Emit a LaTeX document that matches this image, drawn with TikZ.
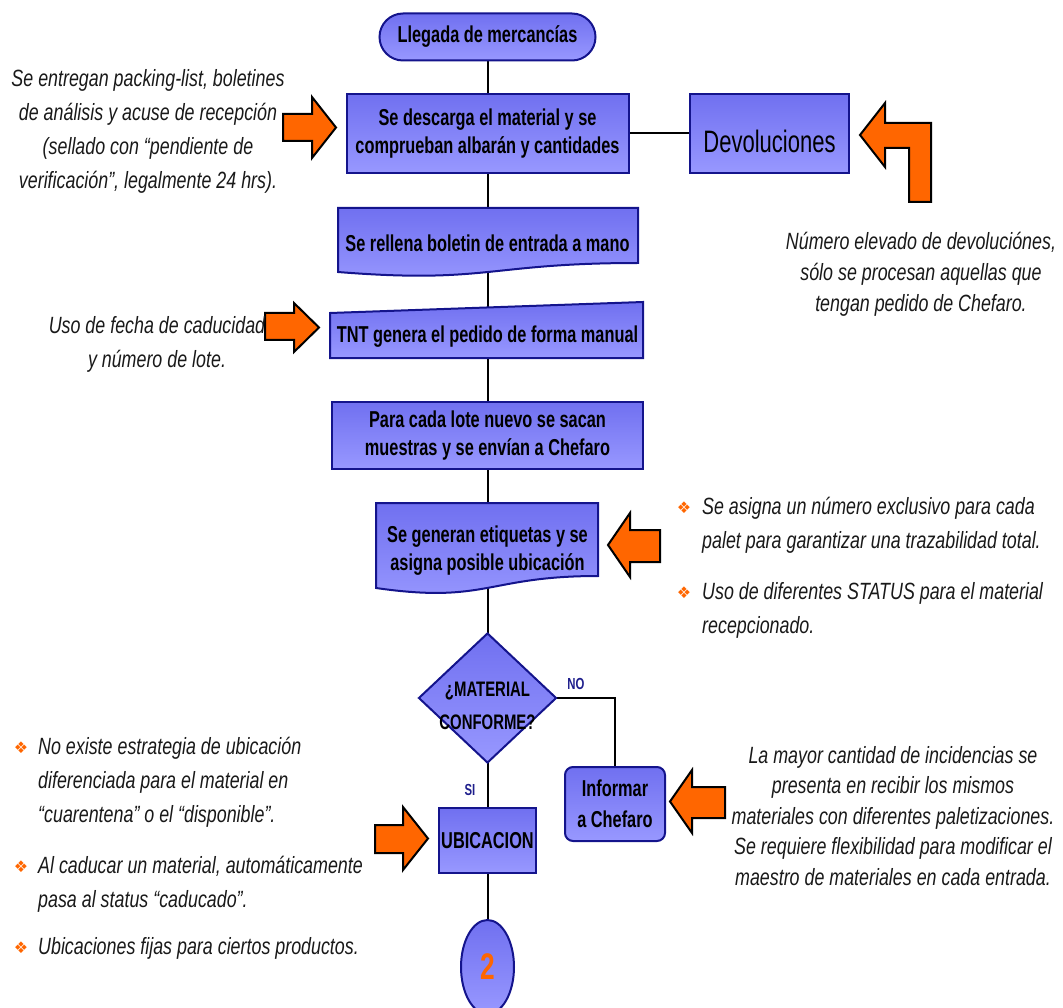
\documentclass[tikz,border=0pt]{standalone}
\usepackage{fontspec}
\setmainfont{Liberation Sans}
\newfontfamily\nar[FakeStretch=0.76]{Liberation Sans}
\newfontfamily\narb[FakeStretch=0.71]{Liberation Sans}
\newfontfamily\dejavu{DejaVu Sans}
\usetikzlibrary{shapes.geometric,shapes.misc}
\definecolor{boxtop}{RGB}{112,112,240}
\definecolor{boxbot}{RGB}{152,152,255}
\definecolor{boxline}{RGB}{20,20,140}
\definecolor{arrowor}{RGB}{255,102,0}
\definecolor{labblue}{RGB}{30,30,140}
\definecolor{txtgray}{RGB}{25,25,25}
\pgfdeclarelayer{connlayer}
\pgfsetlayers{connlayer,main}
\tikzset{
  flowfill/.style={top color=boxtop, bottom color=boxbot, draw=boxline, line width=2pt},
  flowbox/.style={flowfill, rectangle, inner sep=0pt, font=\narb\bfseries\fontsize{23}{28}\selectfont, align=center},
  flowtext/.style={inner sep=0pt, font=\narb\bfseries\fontsize{23}{28}\selectfont, align=center},
  conn/.style={draw=black, line width=2pt},
  blockarrow/.style={fill=arrowor, draw=black, line width=2pt, line join=miter},
  note/.style={inner sep=0pt, font=\nar\itshape\fontsize{23.5}{34}\selectfont, text=txtgray},
  bulletmark/.style={inner sep=0pt, font=\dejavu\fontsize{16}{16}\selectfont, text=arrowor},
  yesno/.style={inner sep=0pt, font=\narb\bfseries\fontsize{16}{16}\selectfont, text=labblue},
}
\begin{document}
\begin{tikzpicture}[x=1pt,y=-1pt]
\useasboundingbox (0,0) rectangle (1063,1008);

% main column
\node[flowbox, rounded rectangle, minimum width=216pt, minimum height=47pt] (pill) at (487.5,37) {Llegada de mercancías};
\node[flowbox, minimum width=282pt, minimum height=79pt] (b1) at (487.5,133.5) {Se descarga el material y se\\comprueban albarán y cantidades};
\node[flowbox, font=\narb\fontsize{31}{31}\selectfont, text height=38pt, minimum width=159pt, minimum height=79pt] (devol) at (769.5,133.5) {Devoluciones};

\path[flowfill] (338,208) -- (638,208) -- (638,263) .. controls (488,263) and (488,284) .. (338,272) -- cycle;
\node[flowtext] (b2) at (487.5,243) {Se rellena boletin de entrada a mano};

\path[flowfill] (330,313) -- (643,302) -- (643,358) -- (330,358) -- cycle;
\node[flowtext] (b3) at (487.5,337) {TNT genera el pedido de forma manual};

\node[flowbox, minimum width=311pt, minimum height=67pt] (b4) at (487.5,435.5) {Para cada lote nuevo se sacan\\muestras y se envían a Chefaro};

\path[flowfill] (376,503) -- (598,503) -- (598,576) .. controls (487,576) and (487,604) .. (376,588) -- cycle;
\node[flowtext] (b5) at (487.5,551) {Se generan etiquetas y se\\asigna posible ubicación};

\node[flowfill, diamond, minimum width=138pt, minimum height=130pt, inner sep=0pt] (dia) at (487.5,698) {};
\node[flowtext, font=\narb\bfseries\fontsize{21}{33}\selectfont] (diat) at (487.5,706) {¿MATERIAL\\CONFORME?};

\node[yesno] (no) at (576,684) {NO};
\node[yesno] (si) at (470,790) {SI};

\node[flowbox, rounded corners=8pt, font=\narb\bfseries\fontsize{23}{31}\selectfont, minimum width=100pt, minimum height=74pt] (inf) at (615,804) {Informar\\a Chefaro};
\node[flowbox, minimum width=97pt, minimum height=65pt] (ubic) at (487.5,840.5) {UBICACION};
\node[flowfill, ellipse, minimum width=53pt, minimum height=94pt, inner sep=0pt, font=\narb\bfseries\fontsize{37}{37}\selectfont, text=arrowor] (two) at (487.5,967) {2};

% connectors
\begin{pgfonlayer}{connlayer}
\draw[conn] (pill.center) -- (b1.center);
\draw[conn] (b1.center) -- (devol.center);
\draw[conn] (b1.center) -- (b2.center);
\draw[conn] (b2.center) -- (b3.center);
\draw[conn] (b3.center) -- (b4.center);
\draw[conn] (b4.center) -- (b5.center);
\draw[conn] (b5.center) -- (dia.center);
\draw[conn] (dia.center) -- (ubic.center);
\draw[conn] (dia.center) -| (inf.center);
\draw[conn] (ubic.center) -- (two.center);
\end{pgfonlayer}

% block arrows
\draw[blockarrow] (283,114) -- (312,114) -- (312,97) -- (336,127.5) -- (312,158) -- (312,141) -- (283,141) -- cycle;
\draw[blockarrow] (265,313) -- (294,313) -- (294,303) -- (319,327.5) -- (294,352) -- (294,340) -- (265,340) -- cycle;
\draw[blockarrow] (660,530) -- (630,530) -- (630,513) -- (608,545) -- (630,577) -- (630,562) -- (660,562) -- cycle;
\draw[blockarrow] (375,825) -- (403,825) -- (403,807) -- (428,838.5) -- (403,870) -- (403,853) -- (375,853) -- cycle;
\draw[blockarrow] (725,787) -- (692,787) -- (692,770) -- (670,801.5) -- (692,833) -- (692,818) -- (725,818) -- cycle;
\draw[blockarrow] (860,135) -- (885,103) -- (885,123) -- (931,123) -- (931,202) -- (909,202) -- (909,148) -- (885,148) -- (885,167) -- cycle;

% notes
\node[note, align=center] (n1) at (148,131) {Se entregan packing-list, boletines\\de análisis y acuse de recepción\\(sellado con “pendiente de\\verificación”, legalmente 24 hrs).};
\node[note, align=center] (n2) at (157,344) {Uso de fecha de caducidad\\y número de lote.};
\node[note, align=center, font=\nar\itshape\fontsize{23.5}{31}\selectfont] (n3) at (921,274) {Número elevado de devoluciónes,\\sólo se procesan aquellas que\\tengan pedido de Chefaro.};

\node[bulletmark] (bu1) at (684,508) {❖};
\node[note, anchor=west, align=left] (n4a) at (702,525) {Se asigna un número exclusivo para cada\\palet para garantizar una trazabilidad total.};
\node[bulletmark] (bu2) at (684,593) {❖};
\node[note, anchor=west, align=left] (n4b) at (702,610) {Uso de diferentes STATUS para el material\\recepcionado.};

\node[bulletmark] (bu3) at (21,748) {❖};
\node[note, anchor=west, align=left] (n5a) at (38,782) {No existe estrategia de ubicación\\diferenciada para el material en\\“cuarentena” o el “disponible”.};
\node[bulletmark] (bu4) at (21,867) {❖};
\node[note, anchor=west, align=left] (n5b) at (38,884) {Al caducar un material, automáticamente\\pasa al status “caducado”.};
\node[bulletmark] (bu5) at (21,948) {❖};
\node[note, anchor=west, align=left] (n5c) at (38,948) {Ubicaciones fijas para ciertos productos.};

\node[note, align=center, font=\nar\itshape\fontsize{23.5}{30.5}\selectfont] (n6) at (893,816) {La mayor cantidad de incidencias se\\presenta en recibir los mismos\\materiales con diferentes paletizaciones.\\Se requiere flexibilidad para modificar el\\maestro de materiales en cada entrada.};
\end{tikzpicture}
\end{document}
